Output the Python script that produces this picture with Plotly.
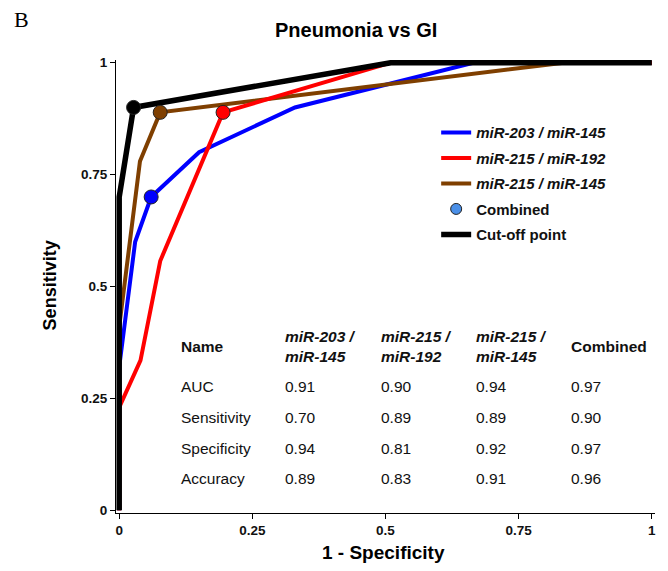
import plotly.graph_objects as go

# ---- data ----
blue_x = [0, 0, 0.03, 0.06, 0.15, 0.33, 0.665, 1]
blue_y = [0, 0.32, 0.60, 0.70, 0.80, 0.90, 1, 1]
red_x = [0, 0, 0.04, 0.077, 0.195, 0.51, 1]
red_y = [0, 0.23, 0.335, 0.557, 0.889, 1, 1]
brown_x = [0, 0, 0.039, 0.077, 0.835, 1]
brown_y = [0, 0.41, 0.78, 0.889, 1, 1]
black_x = [0, 0, 0.027, 0.51, 1]
black_y = [0, 0.70, 0.90, 1, 1]

cutoff_x = [0.06, 0.077, 0.195, 0.027]
cutoff_y = [0.70, 0.889, 0.889, 0.90]

series_names = ["miR-203 / miR-145", "miR-215 / miR-192", "miR-215 / miR-145"]
table_cols = ["miR-203 /<br>miR-145", "miR-215 /<br>miR-192", "miR-215 /<br>miR-145", "Combined"]
table_rows = ["AUC", "Sensitivity", "Specificity", "Accuracy"]
table_vals = [
    ["0.91", "0.90", "0.94", "0.97"],
    ["0.70", "0.89", "0.89", "0.90"],
    ["0.94", "0.81", "0.92", "0.97"],
    ["0.89", "0.83", "0.91", "0.96"],
]
ticks = [0, 0.25, 0.5, 0.75, 1]
tick_text = ["0", "0.25", "0.5", "0.75", "1"]

BLUE, RED, BROWN, BLACK = "#0000ff", "#ff0000", "#7f3f00", "#000000"
FONT = "Arial, 'Liberation Sans', sans-serif"

fig = go.Figure()

# draw order: blue, brown, red, black (legend order via legendrank)
fig.add_trace(go.Scatter(x=blue_x, y=blue_y, mode="lines", line=dict(color=BLUE, width=4),
                         name="<b><i>" + series_names[0] + "</i></b>", legendrank=1, legendgroup="a"))
fig.add_trace(go.Scatter(x=brown_x, y=brown_y, mode="lines", line=dict(color=BROWN, width=4),
                         name="<b><i>" + series_names[2] + "</i></b>", legendrank=3, legendgroup="c"))
fig.add_trace(go.Scatter(x=red_x, y=red_y, mode="lines", line=dict(color=RED, width=4),
                         name="<b><i>" + series_names[1] + "</i></b>", legendrank=2, legendgroup="b"))
fig.add_trace(go.Scatter(x=black_x, y=black_y, mode="lines", line=dict(color=BLACK, width=5.5),
                         name="<b>Cut-off point</b>", legendrank=5, legendgroup="e"))
fig.add_trace(go.Scatter(x=[None], y=[None], mode="markers",
                         marker=dict(color="#4a8fe7", size=11, line=dict(color="#222", width=1)),
                         name="<b>Combined</b>", legendrank=4, legendgroup="d"))
fig.add_trace(go.Scatter(x=cutoff_x, y=cutoff_y, mode="markers", showlegend=False,
                         marker=dict(color=[BLUE, BROWN, RED, BLACK], size=14,
                                     line=dict(color="#222", width=1)),
                         cliponaxis=False))

ann = []
# table
col_x = [0.307, 0.488, 0.666, 0.844]
row_y = [0.277, 0.208, 0.139, 0.072]
ann.append(dict(x=0.112, y=0.365, text="<b>Name</b>"))
for i, c in enumerate(table_cols):
    t = "<b>" + c + "</b>" if c == "Combined" else "<b><i>" + c + "</i></b>"
    ann.append(dict(x=col_x[i], y=0.365, text=t))
for r, name in enumerate(table_rows):
    ann.append(dict(x=0.112, y=row_y[r], text=name))
    for i in range(4):
        ann.append(dict(x=col_x[i], y=row_y[r], text=table_vals[r][i]))
for a in ann:
    a.update(xref="x", yref="y", xanchor="left", yanchor="middle", showarrow=False,
             align="left", font=dict(family=FONT, size=15.5, color="#111"))

ann.append(dict(x=0.446, y=1.067, xref="paper", yref="paper", text="<b>Pneumonia vs GI</b>", showarrow=False,
                font=dict(family=FONT, size=20, color="#000"), xanchor="center", yanchor="middle"))
ann.append(dict(x=-0.1757, y=1.0889, xref="paper", yref="paper", text="B", showarrow=False,
                font=dict(family="'Times New Roman', 'Liberation Serif', serif", size=22, color="#000"),
                xanchor="center", yanchor="middle"))
ann.append(dict(x=-0.122, y=0.503, xref="paper", yref="paper", text="<b>Sensitivity</b>", showarrow=False,
                textangle=-90, font=dict(family=FONT, size=18, color="#000"),
                xanchor="center", yanchor="middle"))
ann.append(dict(x=0.4954, y=-0.0869, xref="paper", yref="paper", text="<b>1 - Specificity</b>", showarrow=False,
                font=dict(family=FONT, size=19, color="#000"), xanchor="center", yanchor="middle"))

axis_common = dict(range=[-0.006, 1.006], tickvals=ticks, ticktext=["<b>%s</b>" % t for t in tick_text],
                   showgrid=False, zeroline=False, showline=True, linecolor="#000", linewidth=1,
                   ticks="outside", ticklen=5, tickcolor="#000",
                   tickfont=dict(family=FONT, size=13.5, color="#111"))

fig.update_layout(
    width=668, height=571,
    margin=dict(l=116, r=13, t=60, b=58),
    plot_bgcolor="white", paper_bgcolor="white",
    xaxis=dict(**axis_common),
    yaxis=dict(**axis_common),
    annotations=ann,
    legend=dict(x=0.594, y=0.876, xanchor="left", yanchor="top", bgcolor="rgba(0,0,0,0)",
                font=dict(family=FONT, size=15, color="#111"), tracegroupgap=3,
                traceorder="grouped", itemwidth=30),
)

fig.write_html("out.html")
